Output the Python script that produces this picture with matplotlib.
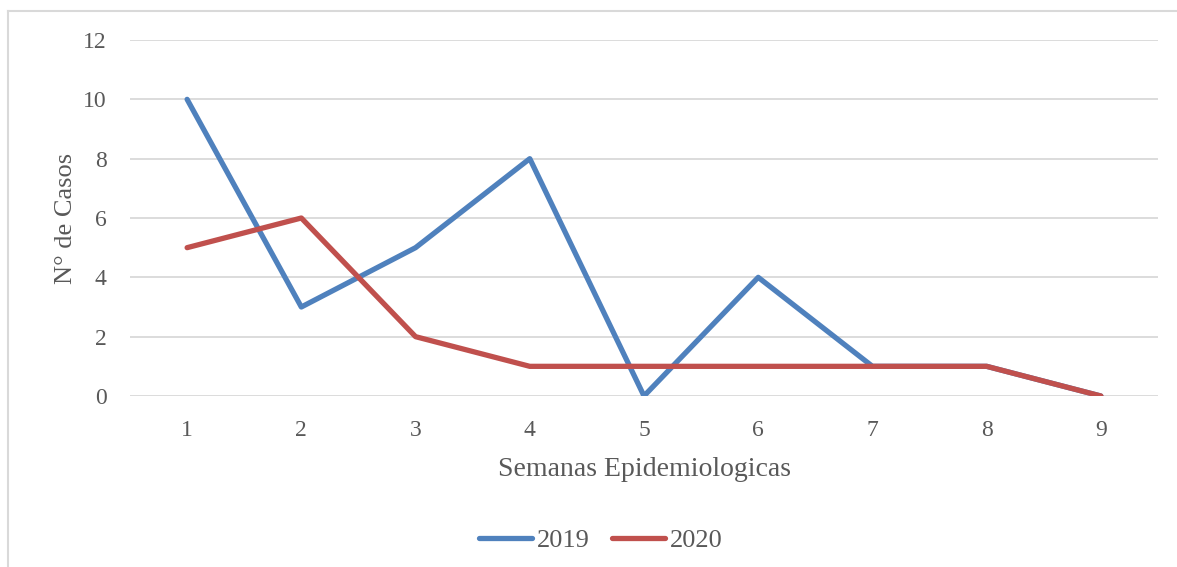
import matplotlib.pyplot as plt
from matplotlib.lines import Line2D

semanas = [1, 2, 3, 4, 5, 6, 7, 8, 9]
casos_2019 = [10, 3, 5, 8, 0, 4, 1, 1, 0]
casos_2020 = [5, 6, 2, 1, 1, 1, 1, 1, 0]

plt.rcParams['font.family'] = ['Liberation Serif', 'DejaVu Serif']
txt = "#595959"

fig = plt.figure(figsize=(11.77, 5.67), dpi=100)
ax = fig.add_axes([130/1177, 1 - 396/567, 1028/1177, 356/567])

# chart frame (left and top edges visible in the reference)
fig.add_artist(Line2D([8/1177, 8/1177], [0, 1 - 11/567], color="#d9d9d9", lw=1.5))
fig.add_artist(Line2D([8/1177, 1], [1 - 11/567, 1 - 11/567], color="#d9d9d9", lw=1.5))

ax.plot(semanas, casos_2019, color="#4F81BD", lw=3.8, solid_capstyle="round", label="2019", zorder=3)
ax.plot(semanas, casos_2020, color="#C0504D", lw=3.8, solid_capstyle="round", label="2020", zorder=4)

ax.set_xlim(0.5, 9.5)
ax.set_ylim(0, 12)
ax.set_yticks(range(0, 13, 2))
ax.set_xticks(semanas)
ax.grid(axis="y", color="#d9d9d9", lw=1.3)
ax.set_axisbelow(True)
for s in ax.spines.values():
    s.set_visible(False)
ax.tick_params(length=0, labelsize=17, colors=txt)
ax.tick_params(axis="y", pad=17)
ax.tick_params(axis="x", pad=17)
ax.set_xlabel("Semanas Epidemiologicas", fontsize=20, color=txt, labelpad=12)
ax.set_ylabel("N° de Casos", fontsize=19, color=txt, labelpad=4)

fig.legend(loc="center", bbox_to_anchor=(601/1177, 1 - 540/567), ncol=2, frameon=False,
           fontsize=19, labelcolor=txt, handlelength=2.0, handletextpad=0.2, columnspacing=0.85)

plt.savefig("out.png")
